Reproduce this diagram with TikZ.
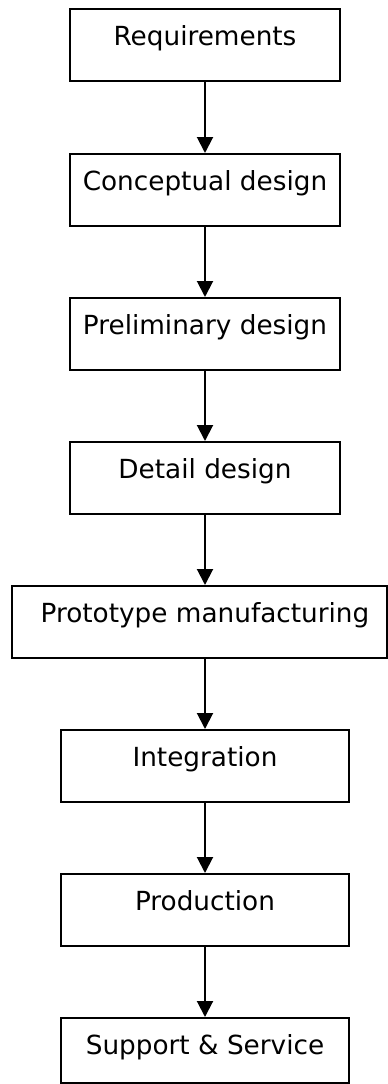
\documentclass[tikz,border=0pt]{standalone}
\usepackage{fontspec}
\setmainfont{DejaVu Sans}
\usetikzlibrary{arrows.meta}
\begin{document}
\begin{tikzpicture}[x=1pt,y=-1pt,
 box/.style={draw, line width=2pt, minimum height=72pt, inner sep=0pt, anchor=north},
 lbl/.style={font=\fontsize{26.3}{30}\selectfont, anchor=base, inner sep=0pt},
 conn/.style={line width=2pt, -{Triangle[length=16pt,width=16pt]}}]
\useasboundingbox (0,0) rectangle (388,1084);
\node[box, minimum width=270pt] (b1) at (205,8) {};
\node[box, minimum width=270pt] (b2) at (205,153) {};
\node[box, minimum width=270pt] (b3) at (205,297) {};
\node[box, minimum width=270pt] (b4) at (205,441) {};
\node[box, minimum width=375pt] (b5) at (199.5,585) {};
\node[box, minimum width=288pt] (b6) at (205,729) {};
\node[box, minimum width=288pt] (b7) at (205,873) {};
\node[box, minimum width=288pt, minimum height=65pt] (b8) at (205,1017) {};
\node[lbl] (t1) at (205,45) {Requirements};
\node[lbl] (t2) at (205,190) {Conceptual design};
\node[lbl] (t3) at (205,334) {Preliminary design};
\node[lbl] (t4) at (205,478) {Detail design};
\node[lbl] (t5) at (205,622) {Prototype manufacturing};
\node[lbl] (t6) at (205,766) {Integration};
\node[lbl] (t7) at (205,910) {Production};
\node[lbl] (t8) at (205,1054) {Support \& Service};
\draw[conn] (b1.south) -- (b2.north);
\draw[conn] (b2.south) -- (b3.north);
\draw[conn] (b3.south) -- (b4.north);
\draw[conn] (b4.south) -- (b4.south |- b5.north);
\draw[conn] (b4.south |- b5.south) -- (b6.north);
\draw[conn] (b6.south) -- (b7.north);
\draw[conn] (b7.south) -- (b8.north);
\end{tikzpicture}
\end{document}
